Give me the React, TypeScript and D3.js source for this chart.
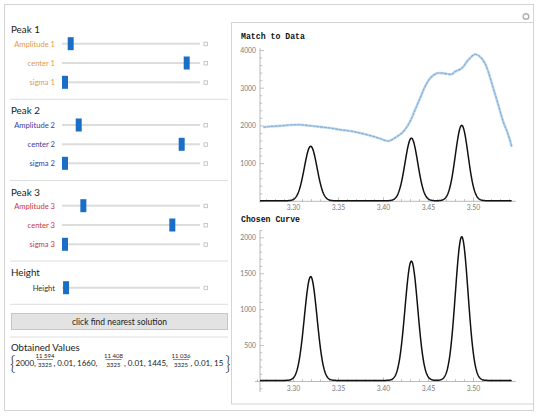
import * as d3 from 'd3';

// measured data trace (x in µm-ish units, y counts)
const dataX = [
  3.2664, 3.2739, 3.285, 3.2961, 3.3072, 3.3183, 3.3294, 3.3406, 3.3517, 3.3628,
  3.3739, 3.385, 3.3961, 3.4053, 3.4147, 3.422, 3.4294, 3.435, 3.4406, 3.4461,
  3.4517, 3.4591, 3.4664, 3.4758, 3.4794, 3.4869, 3.4942, 3.5017, 3.5072, 3.5128,
  3.5164, 3.522, 3.5276, 3.5331, 3.5387, 3.5424,
];
const dataY = [
  1965, 1985, 2000, 2025, 2030, 2005, 1975, 1945, 1900, 1865,
  1810, 1745, 1665, 1600, 1714, 1846, 2111, 2422, 2731, 3040,
  3262, 3395, 3395, 3370, 3438, 3528, 3748, 3899, 3836, 3660,
  3438, 2997, 2554, 2111, 1759, 1448,
];

// obtained peak parameters
const amplitudes = [2000, 1660, 1445];
const centers = [11594 / 3325, 11408 / 3325, 11036 / 3325];
const sigmas = [0.01, 0.01, 0.01];
const baseHeight = 15;
const curveRange = [3.2628, 3.5424];

const xTicks = [3.3, 3.35, 3.4, 3.45, 3.5];
const xTickLabels = ['3.30', '3.35', '3.40', '3.45', '3.50'];
const topYTicks = [1000, 2000, 3000, 4000];
const bottomYTicks = [500, 1000, 1500, 2000];

const peakTitles = ['Peak 1', 'Peak 2', 'Peak 3'];
const peakColors = ['#e59a45', '#3b3ba0', '#c9383c'];
const sliderLabels = [
  ['Amplitude 1', 'center 1', 'sigma 1'],
  ['Amplitude 2', 'center 2', 'sigma 2'],
  ['Amplitude 3', 'center 3', 'sigma 3'],
];
const sliderPositions = [
  [0.043, 0.922, 0],
  [0.104, 0.884, 0],
  [0.139, 0.813, 0],
];
const heightPosition = 0.008;

const uiFont = 'Lato, "Open Sans", sans-serif';
const monoFont = '"Liberation Mono", "DejaVu Sans Mono", monospace';

function curveY(x: number) {
  let v = baseHeight;
  amplitudes.forEach((a, i) => {
    v += a * Math.exp(-(((x - centers[i]) / sigmas[i]) ** 2));
  });
  return v;
}

function Slider({ y, label, color, pos }: { y: number; label: string; color: string; pos: number }) {
  const thumb = d3.scaleLinear().domain([0, 1]).range([65, 197]);
  return (
    <g>
      <text x={55} y={y + 2.8} textAnchor="end" fontSize={7.6} fill={color} fontFamily={uiFont}>
        {label}
      </text>
      <rect x={62} y={y - 1} width={138} height={2} fill="#dcdcdc" />
      <rect x={thumb(pos) - 3} y={y - 6.5} width={6} height={13} fill="#1a6ec6" />
      <rect x={204} y={y - 1.5} width={3.5} height={3.5} fill="none" stroke="#bbb" strokeWidth={0.8} />
    </g>
  );
}

function Axes({
  x, y, xExtent, yExtent, yTicks, yMinorStep, yMajor,
}: {
  x: d3.ScaleLinear<number, number>;
  y: d3.ScaleLinear<number, number>;
  xExtent: [number, number];
  yExtent: [number, number];
  yTicks: number[];
  yMinorStep: number;
  yMajor: number;
}) {
  const x0 = x(curveRange[0]);
  const y0 = y(0);
  const xMinor = d3.range(Math.ceil(xExtent[0] * 100), Math.floor(xExtent[1] * 100) + 1).map((d) => d / 100);
  const yMinor = d3
    .range(Math.ceil(yExtent[0] / yMinorStep), Math.floor(yExtent[1] / yMinorStep) + 1)
    .map((d) => d * yMinorStep);
  const axisColor = '#a8a8a8';
  return (
    <g>
      <line x1={x(xExtent[0])} x2={x(xExtent[1])} y1={y0} y2={y0} stroke={axisColor} strokeWidth={0.8} />
      <line x1={x0} x2={x0} y1={y(yExtent[0])} y2={y(yExtent[1])} stroke={axisColor} strokeWidth={0.8} />
      {xMinor.map((t) => {
        const major = Math.abs(Math.round(t * 20) - t * 20) < 1e-6;
        return (
          <line key={t} x1={x(t)} x2={x(t)} y1={y0} y2={y0 - (major ? 4 : 2.2)} stroke={axisColor} strokeWidth={0.7} />
        );
      })}
      {yMinor.map((t) => {
        const major = t % yMajor === 0;
        return (
          <line key={t} x1={x0} x2={x0 + (major ? 4 : 2.2)} y1={y(t)} y2={y(t)} stroke={axisColor} strokeWidth={0.7} />
        );
      })}
      {xTicks.map((t, i) => (
        <text key={t} x={x(t)} y={y0 + 9} textAnchor="middle" fontSize={6.8} fill="#7a7a7a" fontFamily={uiFont}>
          {xTickLabels[i]}
        </text>
      ))}
      {yTicks.map((t) => (
        <text key={t} x={x0 - 4} y={y(t) + 2.4} textAnchor="end" fontSize={6.8} fill="#7a7a7a" fontFamily={uiFont}>
          {t}
        </text>
      ))}
    </g>
  );
}

function Fraction({ cx, num, den }: { cx: number; num: string; den: string }) {
  return (
    <g fontFamily={uiFont} fill="#222">
      <text x={cx} y={357.5} textAnchor="middle" fontSize={6}>{num}</text>
      <line x1={cx - 8} x2={cx + 8} y1={359.5} y2={359.5} stroke="#222" strokeWidth={0.5} />
      <text x={cx} y={366.5} textAnchor="middle" fontSize={6}>{den}</text>
    </g>
  );
}

export default function App() {
  const x = d3.scaleLinear().domain([3.3, 3.5]).range([293.5, 473.5]);
  const yTop = d3.scaleLinear().domain([0, 4000]).range([201.3, 50.5]);
  const yBot = d3.scaleLinear().domain([0, 2000]).range([381.5, 237.8]);

  const curveXs = d3.range(curveRange[0], curveRange[1] + 1e-9, 0.0004);
  const topCurve = d3.line<number>().x((d) => x(d)).y((d) => yTop(curveY(d)))(curveXs) || '';
  const botCurve = d3.line<number>().x((d) => x(d)).y((d) => yBot(curveY(d)))(curveXs) || '';
  const dataLine =
    d3
      .line<number>()
      .x((d) => x(d))
      .y((_, i) => yTop(dataY[i]))
      .curve(d3.curveCatmullRom)(dataX) || '';

  const rowYs = [
    [43.7, 63, 82.3],
    [125, 144.3, 163.3],
    [205.7, 225, 244.3],
  ];
  const titleYs = [33, 114, 195.5];
  const separators = [99.3, 180.5, 261, 304.3, 337];

  return (
    <svg width={540} height={416} style={{ position: 'absolute', left: 0, top: 0, background: '#fff' }}>
      <rect x={4.5} y={4.5} width={529} height={406} fill="#fff" stroke="#d4d4d4" />
      {/* left controls */}
      {peakTitles.map((t, i) => (
        <g key={t}>
          <text x={11} y={titleYs[i]} fontSize={9.8} fill="#222" fontFamily={uiFont}>
            {t}
          </text>
          {sliderLabels[i].map((l, j) => (
            <Slider key={l} y={rowYs[i][j]} label={l} color={peakColors[i]} pos={sliderPositions[i][j]} />
          ))}
        </g>
      ))}
      <text x={11} y={276} fontSize={9.8} fill="#222" fontFamily={uiFont}>
        Height
      </text>
      <Slider y={287.7} label="Height" color="#333" pos={heightPosition} />
      {separators.map((s) => (
        <line key={s} x1={10} x2={228} y1={s} y2={s} stroke="#dedede" />
      ))}
      <rect x={11.5} y={313.5} width={216} height={16} fill="#e3e3e3" stroke="#c6c6c6" />
      <text x={119.5} y={324.5} textAnchor="middle" fontSize={8.5} fill="#222" fontFamily={uiFont}>
        click find nearest solution
      </text>
      <text x={11} y={351} fontSize={9.6} fill="#222" fontFamily={uiFont}>
        Obtained Values
      </text>
      <g fontFamily={uiFont} fill="#222" fontSize={8}>
        <text x={10} y={369.5} fontSize={19} fontWeight={300}>{'{'}</text>
        <text x={15.5} y={365.5}>2000,</text>
        <Fraction cx={45} num="11 594" den="3325" />
        <text x={53.5} y={365.5}>, 0.01, 1660,</text>
        <Fraction cx={113.5} num="11 408" den="3325" />
        <text x={124} y={365.5}>, 0.01, 1445,</text>
        <Fraction cx={181} num="11 036" den="3325" />
        <text x={190.5} y={365.5}>, 0.01, 15</text>
        <text x={225} y={369.5} fontSize={19} fontWeight={300}>{'}'}</text>
      </g>

      {/* right output panel */}
      <rect x={231.5} y={22.5} width={302} height={381.5} fill="#fff" stroke="#d4d4d4" />
      <circle cx={526} cy={16.5} r={2.8} fill="none" stroke="#b0b0b0" strokeWidth={1.4} />

      <text x={241} y={39} fontSize={8.2} fontWeight="bold" fill="#111" fontFamily={monoFont}>
        Match to Data
      </text>
      <Axes x={x} y={yTop} xExtent={[3.2628, 3.547]} yExtent={[-35, 4060]} yTicks={topYTicks} yMinorStep={200} yMajor={1000} />
      <path d={dataLine} fill="none" stroke="#c3d9ee" strokeWidth={2.6} />
      <path d={dataLine} fill="none" stroke="#7eadd6" strokeWidth={1.1} strokeDasharray="3 0.8" />
      <path d={topCurve} fill="none" stroke="#111" strokeWidth={1.5} />

      <text x={241} y={222} fontSize={8.2} fontWeight="bold" fill="#111" fontFamily={monoFont}>
        Chosen Curve
      </text>
      <Axes x={x} y={yBot} xExtent={[3.2572, 3.547]} yExtent={[-146, 2105]} yTicks={bottomYTicks} yMinorStep={100} yMajor={500} />
      <path d={botCurve} fill="none" stroke="#111" strokeWidth={1.5} />
    </svg>
  );
}
